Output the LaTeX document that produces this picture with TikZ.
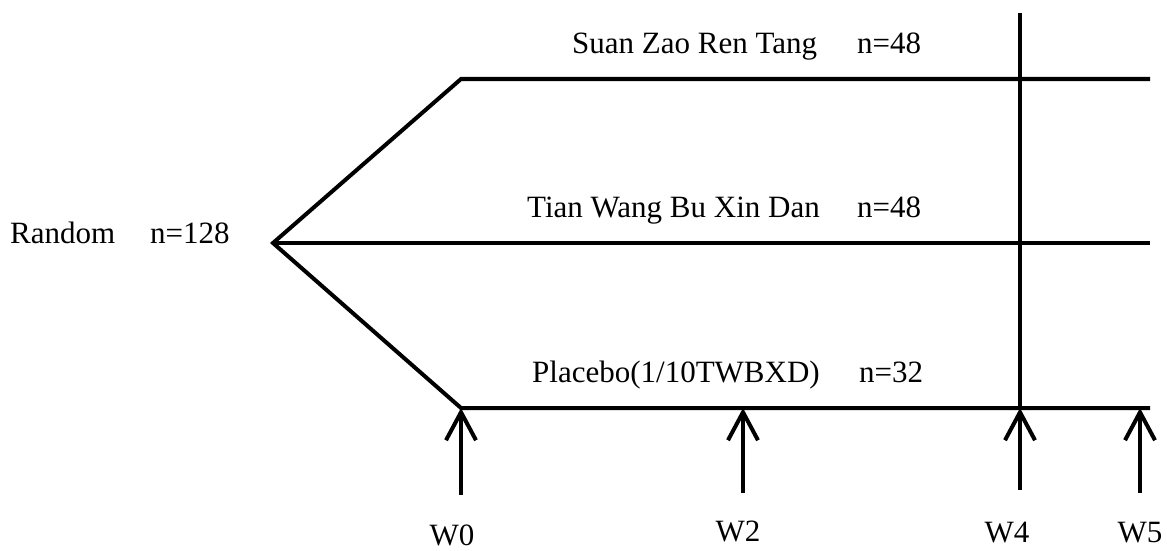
\documentclass[tikz,border=0pt]{standalone}
\usepackage{fontspec}
\setmainfont{Liberation Serif}
\usetikzlibrary{arrows.meta}
\begin{document}
\begin{tikzpicture}[x=1pt,y=-1pt,
  trunk/.style={line width=4pt,line join=miter},
  visit/.style={line width=4pt,-{Straight Barb[length=28pt,width=30pt,line width=4pt]}},
  lbl/.style={inner sep=0pt,anchor=base west,font=\fontsize{31}{36}\selectfont},
  wk/.style={inner sep=0pt,anchor=base,text depth=0pt,font=\fontsize{31}{36}\selectfont}]
\useasboundingbox (0,0) rectangle (1167,551);

% branching point and arm ends
\coordinate (apex) at (273,243);
\coordinate (c1) at (461,79);
\coordinate (e1) at (1150,79);
\coordinate (e2) at (1150,243);
\coordinate (c3) at (461,408);
\coordinate (e3) at (1150,408);

% the three arms
\draw[trunk] (e1) -- (c1) -- (apex) -- (c3) -- (e3);
\draw[trunk] (apex) -- (e2);

% week-4 marker line
\coordinate (v1) at (1020,13);
\coordinate (v2) at (1020,408);
\draw[trunk] (v1) -- (v2);

% visit arrows
\coordinate (b0) at (461,495);
\coordinate (b2) at (743,493);
\coordinate (t2) at (743,408);
\coordinate (b4) at (1020,490);
\coordinate (b5) at (1140,493);
\coordinate (t5) at (1140,408);
\draw[visit] (b0) -- (c3);
\draw[visit] (b2) -- (t2);
\draw[visit] (b4) -- (v2);
\draw[visit] (b5) -- (t5);

% labels
\node[lbl] (rand) at (10,243) {Random};
\node[lbl] (randn) at (150,243) {n=128};
\node[lbl] (g1) at (572,53) {Suan Zao Ren Tang};
\node[lbl] (g1n) at (857,53) {n=48};
\node[lbl] (g2) at (527,217) {Tian Wang Bu Xin Dan};
\node[lbl] (g2n) at (857,217) {n=48};
\node[lbl] (g3) at (532,382) {Placebo(1/10TWBXD)};
\node[lbl] (g3n) at (859,382) {n=32};

\node[wk] (w0) at (452,545) {W0};
\node[wk] (w2) at (738,541) {W2};
\node[wk] (w4) at (1007,542) {W4};
\node[wk] (w5) at (1140,542) {W5};
\end{tikzpicture}
\end{document}
